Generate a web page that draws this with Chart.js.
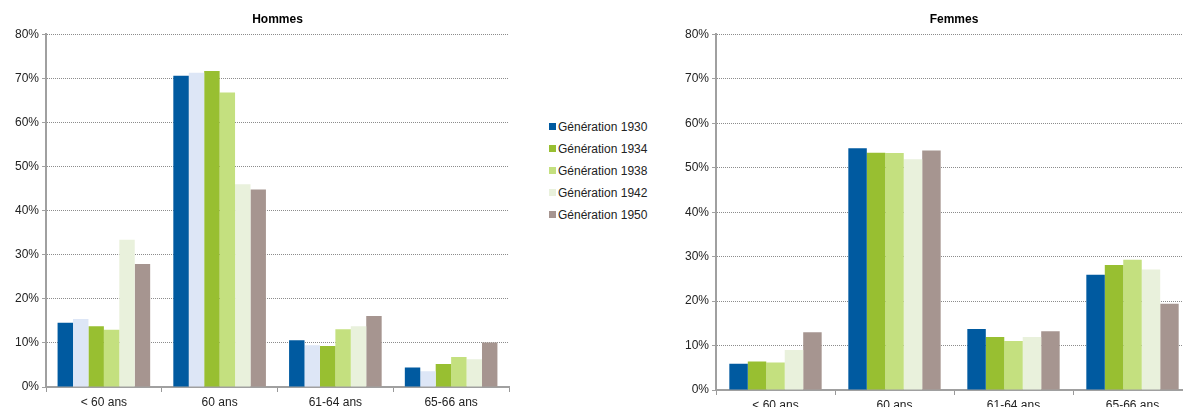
<!DOCTYPE html>
<html lang="fr">
<head>
<meta charset="utf-8">
<script src="https://cdn.jsdelivr.net/npm/chart.js@4"></script>
<style>
	body{margin:0;width:1183px;height:407px;overflow:hidden;background:#fff;font-family:"Liberation Sans",Arial,sans-serif;}
	.bloc{position:absolute;top:0;height:420px;}
	#bloc-hommes{left:0;width:530px;}
	#bloc-femmes{left:660px;width:540px;}
	#legende{position:absolute;left:549px;top:118px;font-size:12px;color:#222;}
	#legende div{height:22px;line-height:18px;white-space:nowrap;}
	#legende span{display:inline-block;width:7px;height:7px;margin-right:2px;vertical-align:1px;}
</style>
</head>
<body>
<div class="bloc" id="bloc-hommes"><canvas id="graphique-hommes"></canvas></div>
<div id="legende"></div>
<div class="bloc" id="bloc-femmes"><canvas id="graphique-femmes"></canvas></div>
<script>
// tranches d'age au depart
const categories = ["< 60 ans", "60 ans", "61-64 ans", "65-66 ans"];
const generations = ["Génération 1930", "Génération 1934", "Génération 1938", "Génération 1942", "Génération 1950"];
const couleurs = ["#005aa0", "#98bf31", "#c4e07f", "#e9f1dc", "#a69590"];
const couleurSansLegende = "#dde6f6";

// Hommes (en %)
const hommes1930 = [14.6, 70.6, 10.6, 4.4];
const hommesSansLegende = [15.4, 71.3, 9.5, 3.6];
const hommes1934 = [13.8, 71.7, 9.3, 5.2];
const hommes1938 = [13.0, 66.8, 13.1, 6.8];
const hommes1942 = [33.4, 46.0, 13.8, 6.3];
const hommes1950 = [27.9, 44.8, 16.1, 10.1];

// Femmes (en %)
const femmes1930 = [5.9, 54.4, 13.7, 25.9];
const femmes1934 = [6.4, 53.4, 11.9, 28.1];
const femmes1938 = [6.2, 53.3, 11.0, 29.3];
const femmes1942 = [9.0, 51.9, 11.9, 27.1];
const femmes1950 = [13.0, 53.9, 13.2, 19.4];

const pourcentageY = [0, 80, 10];
const police = "'Liberation Sans', Arial, sans-serif";

function serie(label, data, couleur, largeurGroupe){
	return {
		label: label,
		data: data,
		backgroundColor: couleur,
		borderWidth: 0,
		barPercentage: 1,
		categoryPercentage: largeurGroupe
	};
}

function options(titre, largeurAxeY, hauteurAxeX, margeDroite){
	return {
		responsive: true,
		maintainAspectRatio: false,
		animation: false,
		layout: {padding: {left: 0, right: margeDroite, top: 0, bottom: 0}},
		plugins: {
			legend: {display: false},
			tooltip: {enabled: false},
			title: {
				display: true,
				text: titre,
				fullSize: false,
				color: "#000",
				font: {family: police, size: 12, weight: "bold"},
				padding: {top: 12, bottom: 8}
			}
		},
		scales: {
			x: {
				grid: {drawOnChartArea: false, offset: true, tickLength: 5, color: "#999", tickColor: "#999"},
				border: {color: "#a0a0a0", width: 2},
				ticks: {color: "#222", font: {family: police, size: 12}, padding: 3, maxRotation: 0},
				afterFit: function(s){ s.height = hauteurAxeX; }
			},
			y: {
				min: pourcentageY[0],
				max: pourcentageY[1],
				ticks: {stepSize: pourcentageY[2], color: "#222", font: {family: police, size: 12}, padding: 3, callback: v => v + "%"},
				grid: {color: "#8c8c8c", lineWidth: 1, tickLength: 4, tickColor: "#a0a0a0", tickBorderDash: []},
				border: {color: "#a0a0a0", width: 2, dash: [1, 1]},
				afterFit: function(s){ s.width = largeurAxeY; }
			}
		}
	};
}

// graphique Hommes : six series dont une sans legende
new Chart(document.querySelector("#graphique-hommes"), {
	type: "bar",
	data: {
		labels: categories,
		datasets: [
			serie(generations[0], hommes1930, couleurs[0], 0.80),
			serie("", hommesSansLegende, couleurSansLegende, 0.80),
			serie(generations[1], hommes1934, couleurs[1], 0.80),
			serie(generations[2], hommes1938, couleurs[2], 0.80),
			serie(generations[3], hommes1942, couleurs[3], 0.80),
			serie(generations[4], hommes1950, couleurs[4], 0.80)
		]
	},
	options: options("Hommes", 46, 33, 21)
});

// graphique Femmes
const femmes = [femmes1930, femmes1934, femmes1938, femmes1942, femmes1950];
new Chart(document.querySelector("#graphique-femmes"), {
	type: "bar",
	data: {
		labels: categories,
		datasets: generations.map((g, i) => serie(g, femmes[i], couleurs[i], 0.776))
	},
	options: options("Femmes", 56, 30, 8)
});

// legende commune
const legende = document.querySelector("#legende");
for(let i = 0; i < generations.length; i++)
	legende.innerHTML += `<div><span style="background:${couleurs[i]}"></span>${generations[i]}</div>`;
</script>
</body>
</html>
